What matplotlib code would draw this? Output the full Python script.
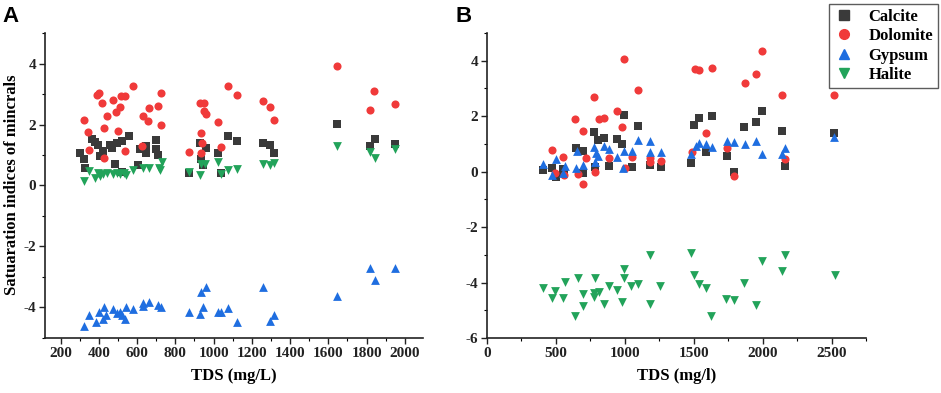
import matplotlib
matplotlib.use("Agg")
import matplotlib.pyplot as plt
from matplotlib.ticker import MultipleLocator
from matplotlib.lines import Line2D

# ---------------- Panel A data ----------------
a_cal_x = [301, 323, 328, 364, 382, 397, 408, 423, 458, 470, 486, 496, 519, 521, 559, 606, 615, 646, 646, 699, 699, 707,
           872, 928, 935, 946, 958, 1024, 1036, 1077, 1120, 1260, 1294, 1315, 1646, 1820, 1843, 1951]
a_cal_y = [1.07, 0.87, 0.56, 1.51, 1.42, 1.32, 0.96, 1.13, 1.32, 1.23, 0.72, 1.38, 1.45, 0.44, 1.62, 0.67, 1.21, 1.29, 1.07, 1.49, 1.20, 0.99,
           0.42, 1.40, 0.87, 0.66, 1.23, 1.07, 0.42, 1.62, 1.46, 1.40, 1.32, 1.06, 2.01, 1.28, 1.54, 1.36]

a_dol_x = [322, 345, 350, 388, 402, 415, 427, 441, 429, 475, 488, 502, 512, 516, 538, 535, 576, 624, 631, 659, 662, 711, 723, 724,
           872, 927, 952, 932, 941, 936, 952, 958, 1024, 1036, 1076, 1120, 1258, 1294, 1315, 1646, 1820, 1841, 1951]
a_dol_y = [2.16, 1.75, 1.15, 2.98, 3.04, 2.71, 1.89, 2.28, 0.91, 2.79, 2.42, 1.80, 2.59, 2.92, 2.93, 1.12, 3.26, 1.28, 2.27, 2.10, 2.54, 2.62, 3.02, 1.98,
           1.10, 2.70, 2.69, 1.73, 1.40, 1.05, 2.43, 2.33, 2.09, 1.26, 3.27, 2.96, 2.77, 2.57, 2.16, 3.91, 2.48, 3.09, 2.66]

a_gyp_x = [324, 350, 385, 402, 420, 426, 437, 475, 493, 510, 519, 536, 540, 576, 632, 632, 664, 711, 725,
           872, 927, 945, 932, 958, 1024, 1036, 1076, 1120, 1259, 1294, 1315, 1646, 1820, 1843, 1951]
a_gyp_y = [-4.62, -4.24, -4.49, -4.16, -4.37, -3.99, -4.24, -4.04, -4.19, -4.16, -4.24, -4.37, -4.00, -4.04, -3.95, -3.84, -3.83, -3.92, -3.99,
           -4.16, -4.21, -3.97, -3.48, -3.34, -4.16, -4.14, -4.02, -4.49, -3.33, -4.43, -4.26, -3.62, -2.71, -3.09, -2.71]

a_hal_x = [322, 350, 380, 397, 406, 423, 441, 476, 493, 510, 531, 542, 576, 629, 662, 716, 728, 720,
           872, 927, 936, 953, 1024, 1036, 1077, 1120, 1260, 1294, 1315, 1646, 1817, 1843, 1951]
a_hal_y = [0.14, 0.49, 0.25, 0.41, 0.31, 0.38, 0.41, 0.39, 0.41, 0.39, 0.41, 0.36, 0.50, 0.56, 0.56, 0.58, 0.78, 0.52,
           0.45, 0.33, 0.69, 0.72, 0.76, 0.39, 0.50, 0.55, 0.71, 0.67, 0.74, 1.29, 1.10, 0.91, 1.20]

# ---------------- Panel B data ----------------
b_cal_x = [404, 469, 501, 549, 561, 646, 699, 699, 779, 784, 808, 851, 888, 941, 982, 994, 1055, 1098, 1185, 1260,
           1480, 1505, 1539, 1589, 1630, 1739, 1792, 1867, 1950, 1998, 2138, 2163, 2521]
b_cal_y = [0.06, 0.12, -0.18, 0.08, -0.06, 0.84, 0.75, -0.04, 1.42, 0.18, 1.14, 1.20, 0.22, 1.17, 1.00, 2.05, 0.18, 1.65, 0.24, 0.18,
           0.30, 1.69, 1.93, 0.72, 1.99, 0.57, -0.02, 1.60, 1.78, 2.19, 1.45, 0.22, 1.39]

b_dol_x = [472, 549, 496, 561, 641, 697, 658, 697, 721, 779, 786, 810, 851, 888, 943, 980, 992, 1001, 1052, 1096, 1185, 1185, 1263,
           1485, 1510, 1539, 1631, 1589, 1739, 1793, 1870, 1952, 1993, 2141, 2165, 2520]
b_dol_y = [0.78, 0.52, -0.06, -0.12, 1.90, 1.48, -0.09, -0.44, 0.48, 2.71, -0.03, 1.90, 1.93, 0.48, 2.17, 1.60, 4.07, 0.12, 0.52, 2.95, 0.48, 0.36, 0.40,
           0.72, 3.71, 3.68, 3.74, 1.38, 0.87, -0.14, 3.18, 3.52, 4.34, 2.76, 0.46, 2.78]

b_gyp_x = [404, 469, 501, 549, 566, 646, 655, 699, 779, 784, 793, 808, 849, 888, 941, 984, 994, 1055, 1098, 1185, 1185, 1260,
           1480, 1514, 1541, 1589, 1630, 1739, 1792, 1872, 1950, 1998, 2138, 2163, 2521]
b_gyp_y = [0.28, -0.12, 0.45, -0.04, 0.22, 0.14, 0.76, 0.23, 0.88, 0.36, 0.66, 0.57, 0.93, 0.83, 0.54, 0.12, 0.74, 0.75, 1.15, 1.12, 0.71, 0.72,
           0.64, 0.94, 1.02, 0.99, 0.90, 1.12, 1.06, 1.00, 1.12, 0.64, 0.64, 0.84, 1.26]

b_hal_x = [406, 496, 472, 549, 568, 641, 658, 697, 697, 779, 779, 786, 810, 851, 888, 943, 980, 997, 997, 1047, 1096, 1185, 1185, 1258,
           1483, 1505, 1536, 1589, 1628, 1737, 1790, 1867, 1955, 1996, 2138, 2165, 2523]
b_hal_y = [-4.18, -4.31, -4.55, -4.57, -3.97, -5.20, -3.82, -4.43, -4.84, -4.37, -4.51, -3.82, -4.34, -4.77, -4.14, -4.26, -4.72, -3.52, -3.84, -4.11, -4.05, -3.02, -4.77, -4.12,
           -2.94, -3.72, -4.07, -4.19, -5.22, -4.58, -4.64, -4.01, -4.80, -3.24, -3.58, -3.02, -3.73]

names = ["Calcite", "Dolomite", "Gypsum", "Halite"]
colors = ["#3a3a3a", "#f03a3a", "#1f6ee0", "#22a35a"]
markers = ["s", "o", "^", "v"]
sizes = [26, 34, 40, 40]

plt.rcParams['font.family'] = ['Liberation Serif', 'DejaVu Serif']
plt.rcParams['font.weight'] = 'bold'
plt.rcParams['axes.unicode_minus'] = False

fig = plt.figure(figsize=(9.41, 3.93), dpi=100)
axA = fig.add_axes([0.0478, 0.140, 0.4017, 0.776])
axB = fig.add_axes([0.5175, 0.140, 0.4028, 0.776])

seriesA = [(a_cal_x, a_cal_y), (a_dol_x, a_dol_y), (a_gyp_x, a_gyp_y), (a_hal_x, a_hal_y)]
seriesB = [(b_cal_x, b_cal_y), (b_dol_x, b_dol_y), (b_gyp_x, b_gyp_y), (b_hal_x, b_hal_y)]

for ax, series in [(axA, seriesA), (axB, seriesB)]:
    for (xs, ys), c, m, s in zip(series, colors, markers, sizes):
        ax.scatter(xs, ys, s=s, c=c, marker=m, linewidths=0, zorder=3)
    for side in ['top', 'right']:
        ax.spines[side].set_visible(False)
    for side in ['left', 'bottom']:
        ax.spines[side].set_linewidth(1.2)
        ax.spines[side].set_color('#222222')
    ax.tick_params(axis='both', which='major', direction='out', length=4, width=1.0,
                   labelsize=11, colors='#222222', pad=2.5)
    ax.tick_params(axis='both', which='minor', direction='out', length=2.5, width=0.8)
    ax.yaxis.set_major_locator(MultipleLocator(2))
    ax.yaxis.set_minor_locator(MultipleLocator(1))
    for lab in ax.get_xticklabels() + ax.get_yticklabels():
        lab.set_fontweight('bold')

axA.set_xlim(118, 2095)
axA.set_ylim(-5, 5)
axA.set_xticks(range(200, 2001, 200))
axA.xaxis.set_minor_locator(MultipleLocator(100))
axA.set_xlabel("TDS (mg/L)", fontsize=12, fontweight='bold', labelpad=6)

axB.set_xlim(0, 2750)
axB.set_ylim(-6, 5)
axB.set_xticks(range(0, 2501, 500))
axB.xaxis.set_minor_locator(MultipleLocator(250))
axB.set_xlabel("TDS (mg/l)", fontsize=12, fontweight='bold', labelpad=6)

fig.text(0.0125, 0.53, "Satuaration indices of mincrals", fontsize=12, fontweight='bold',
         rotation=90, ha='center', va='center')

fig.text(0.003, 0.985, "A", fontsize=16, fontweight='bold', family='Liberation Sans', va='top', ha='left')
fig.text(0.484, 0.985, "B", fontsize=16, fontweight='bold', family='Liberation Sans', va='top', ha='left')

handles = [Line2D([], [], linestyle='none', marker=m, color=c, markersize=7 if m != 's' else 6.5)
           for m, c in zip(markers, colors)]
leg = fig.legend(handles, names, loc='upper right', bbox_to_anchor=(0.997, 0.99),
                 borderaxespad=0, frameon=True, fancybox=False, edgecolor='#333333',
                 prop={'weight': 'bold', 'size': 12}, handletextpad=0.9, borderpad=0.3,
                 labelspacing=0.2, handlelength=1.2)
leg.get_frame().set_linewidth(1.0)

fig.savefig("out.png", dpi=100)
